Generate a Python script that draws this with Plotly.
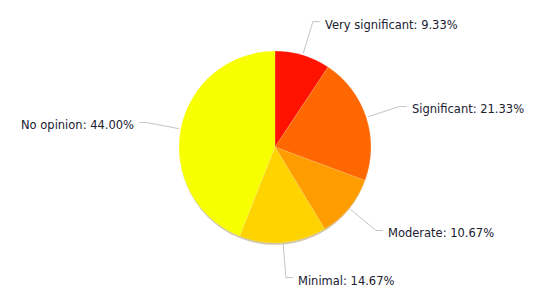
import math
import plotly.graph_objects as go

labels = ["Very significant", "Significant", "Moderate", "Minimal", "No opinion"]
percents = [9.33, 21.33, 10.67, 14.67, 44.00]
colors = ["#FF1300", "#FF6700", "#FF9D00", "#FFD300", "#F8FF00"]

W, H = 533, 285
OFF = 8  # page body margin offset
cx, cy, R = 275 - OFF, 147 - OFF, 96

fig = go.Figure(go.Pie(
    labels=labels, values=percents, sort=False, direction="clockwise", rotation=0,
    marker=dict(colors=colors, line=dict(color="rgba(255,255,255,0.25)", width=0.6)),
    textinfo="none", hoverinfo="label+percent", showlegend=False,
    domain=dict(x=[(cx - R) / W, (cx + R) / W], y=[(H - cy - R) / H, (H - cy + R) / H]),
))

def px(x, y):
    return x / W, 1 - y / H

shapes, annotations = [], []
# soft drop shadow under the pie
sx0, sy0 = px(cx - R + 0.5, cy - R + 2)
sx1, sy1 = px(cx + R - 0.5, cy + R + 1.8)
shapes.append(dict(type="circle", xref="paper", yref="paper", x0=sx0, y0=sy0, x1=sx1, y1=sy1,
                   fillcolor="rgba(120,90,0,0.35)", line=dict(width=0), layer="below"))

total = sum(percents)
cum = 0.0
for lab, v in zip(labels, percents):
    mid = (cum + v / 2) / total * 2 * math.pi
    cum += v
    s, c = math.sin(mid), math.cos(mid)
    x1, y1 = cx + (R + 2) * s, cy - (R + 2) * c
    x2, y2 = cx + (R + 35) * s, cy - (R + 35) * c
    side = 1 if s >= 0 else -1
    x3 = x2 + side * 7
    for (a, b), (d, e) in [((x1, y1), (x2, y2)), ((x2, y2), (x3, y2))]:
        p, q = px(a, b)
        r_, t = px(d, e)
        shapes.append(dict(type="line", xref="paper", yref="paper", x0=p, y0=q, x1=r_, y1=t,
                           line=dict(color="#C4C4C4", width=1)))
    tx, ty = px(x3 + side * 3, y2 + 3)
    annotations.append(dict(
        x=tx, y=ty, xref="paper", yref="paper", showarrow=False,
        text=f"{lab}: {v:.2f}%", xanchor="left" if side > 0 else "right", yanchor="middle",
        font=dict(family="DejaVu Sans, Verdana, sans-serif", size=11.5, color="#202030"),
    ))

fig.update_layout(
    width=W, height=H, margin=dict(l=0, r=0, t=0, b=0),
    paper_bgcolor="white", plot_bgcolor="white",
    shapes=shapes, annotations=annotations,
)
fig.write_html("out.html")
